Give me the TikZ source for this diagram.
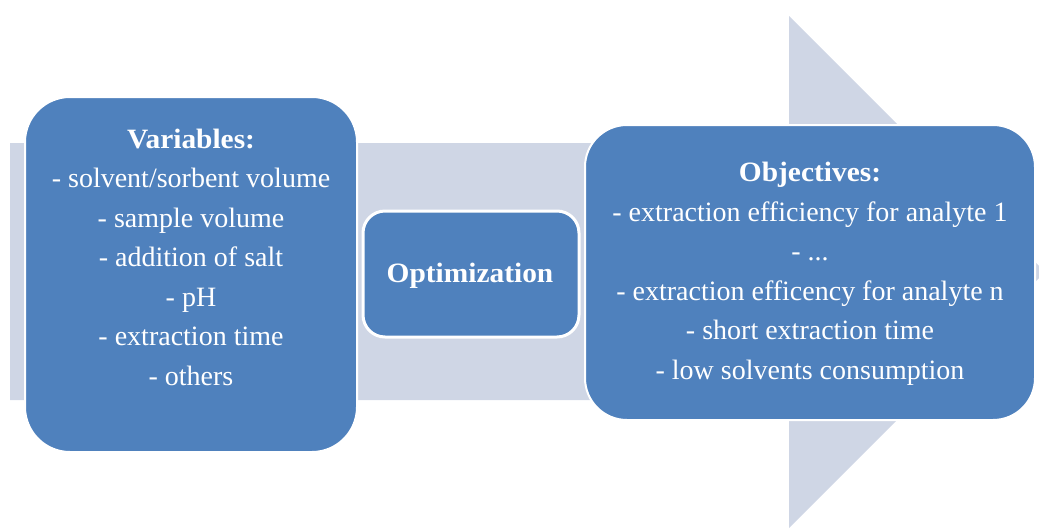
\documentclass[tikz,border=0pt]{standalone}
\usepackage{fontspec}
\setmainfont{Liberation Serif}
\definecolor{boxblue}{HTML}{4F81BD}
\definecolor{arrowgray}{HTML}{CFD6E5}
\newcommand{\hd}[1]{\scalebox{1.05}[1]{\textbf{#1}}}
\begin{document}
\begin{tikzpicture}[x=1pt,y=-1pt,
  bluebox/.style={draw=white,line width=2pt,fill=boxblue,inner sep=0pt},
  boxtext/.style={text=white,align=center,font=\fontsize{28}{39.5}\selectfont,inner sep=0pt}]
\useasboundingbox (0,0) rectangle (1039,528);
\begin{scope}
\clip (0,0) rectangle (1039,528);
\fill[arrowgray] (10,143) -- (789,143) -- (789,16) -- (1045,272) -- (789,528) -- (789,400) -- (10,400) -- cycle;
\end{scope}
\node[bluebox,rounded corners=45pt,minimum width=332pt,minimum height=355pt] (var) at (191,274.5) {};
\node[boxtext] (vartext) at (191,257) {\hd{Variables:}\\- solvent/sorbent volume\\- sample volume\\- addition of salt\\- pH\\- extraction time\\- others};
\node[bluebox,line width=3pt,rounded corners=22pt,minimum width=216pt,minimum height=126pt] (opt) at (471,274) {};
\node[boxtext] (opttext) at (470,276) {\hd{Optimization}};
\node[bluebox,rounded corners=42pt,minimum width=450pt,minimum height=295pt] (obj) at (810,272.5) {};
\node[boxtext] (objtext) at (810,274) {\hd{Objectives:}\\- extraction efficiency for analyte 1\\- ...\\- extraction efficency for analyte n\\- short extraction time\\- low solvents consumption};
\end{tikzpicture}
\end{document}
